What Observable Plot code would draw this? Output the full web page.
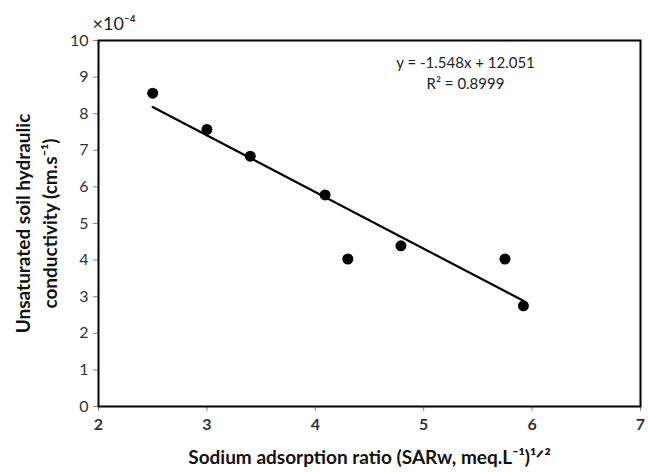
<!DOCTYPE html>
<html><head><meta charset="utf-8">
<script src="https://cdn.jsdelivr.net/npm/d3@7"></script>
<script src="https://cdn.jsdelivr.net/npm/@observablehq/plot@0.6"></script>
<style>body{margin:0;background:#fff}</style>
</head><body><div id="chart"></div>
<script>
const sar = [2.5, 3.0, 3.4, 4.09, 4.3, 4.79, 5.75, 5.92];
const kunsat = [8.56, 7.57, 6.84, 5.78, 4.03, 4.39, 4.03, 2.75];
const slope = -1.548, intercept = 12.051, r2 = 0.8999;
const xTicks = [2, 3, 4, 5, 6, 7];
const yTicks = [0, 1, 2, 3, 4, 5, 6, 7, 8, 9, 10];

const pts = sar.map((x, i) => ({x, y: kunsat[i]}));
const fit = [d3.min(sar), d3.max(sar)];
const font = "Lato, 'Open Sans', sans-serif";

const chart = Plot.plot({
  width: 648, height: 472,
  marginLeft: 98, marginRight: 8, marginTop: 40, marginBottom: 66,
  style: {fontFamily: font, fontSize: "15px", color: "#333", background: "#fff"},
  x: {domain: [2, 7], ticks: xTicks, label: null},
  y: {domain: [0, 10], ticks: yTicks, label: null},
  marks: [
    Plot.axisX({ticks: xTicks, tickFormat: d3.format("d"), tickSize: 5, stroke: "#888", tickPadding: 7, fontSize: 16, fontWeight: "bold", fill: "#333", label: null}),
    Plot.axisY({ticks: yTicks, tickFormat: d3.format("d"), tickSize: 5, stroke: "#888", tickPadding: 5, fontSize: 16, fill: "#333", label: null}),
    Plot.line(fit, {x: d => d, y: d => slope * d + intercept, stroke: "black", strokeWidth: 2.2}),
    Plot.dot(pts, {x: "x", y: "y", r: 5.5, fill: "black"}),
    Plot.frame({stroke: "black", strokeWidth: 2}),
    Plot.text([`y = ${slope}x + ${intercept}`], {frameAnchor: "top", dx: 96, dy: 17, fontSize: 15, fill: "#222", fontFamily: font}),
    Plot.text([`R² = ${r2}`], {frameAnchor: "top", dx: 96, dy: 38, fontSize: 15, fill: "#222", fontFamily: font}),
    Plot.text(["×10⁻⁴"], {frameAnchor: "top-left", dx: -6, dy: -23, textAnchor: "start", fontSize: 18, fill: "#222", fontFamily: font}),
    Plot.text(["Unsaturated soil hydraulic"], {frameAnchor: "left", dx: -75, rotate: -90, textAnchor: "middle", fontSize: 19, fontWeight: "bold", fill: "#111", fontFamily: font}),
    Plot.text(["conductivity (cm.s⁻¹)"], {frameAnchor: "left", dx: -48, rotate: -90, textAnchor: "middle", fontSize: 19, fontWeight: "bold", fill: "#111", fontFamily: font}),
    Plot.text(["Sodium adsorption ratio (SARw, meq.L⁻¹)¹ᐟ²"], {frameAnchor: "bottom", dy: 57, fontSize: 19, fontWeight: "bold", fill: "#111", fontFamily: font})
  ]
});
document.getElementById("chart").append(chart);
</script>
</body></html>
